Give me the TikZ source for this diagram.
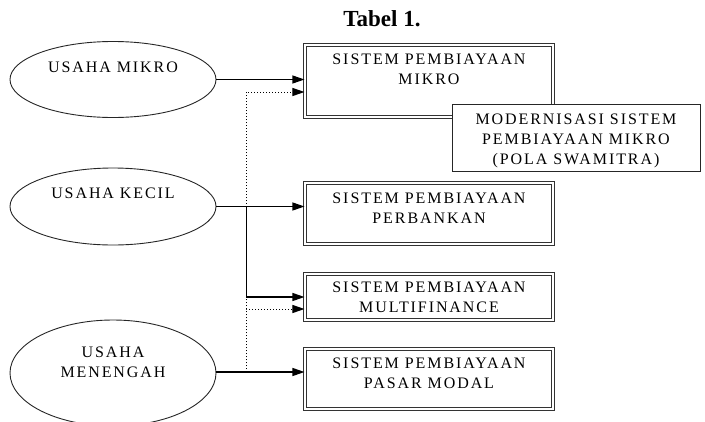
\documentclass[tikz,border=0pt]{standalone}
\usepackage{fontspec}
\setmainfont{Liberation Serif}
\newfontfamily\diagfont[LetterSpace=12]{Liberation Serif}
\usetikzlibrary{positioning,arrows.meta,shapes}

\tikzset{
    usaha/.style={ellipse, draw=black!85, line width=0.9pt, minimum width=206pt, inner sep=0pt},
    sistem/.style={rectangle, draw=black!80, double, double distance=1.6pt, line width=1.1pt, minimum width=248pt, inner sep=0pt},
    modern/.style={rectangle, draw=black!85, fill=white, line width=1pt, minimum width=248pt, minimum height=67pt, inner sep=0pt},
    lbl/.style={font=\diagfont\fontsize{16}{20}\selectfont, align=center, inner sep=0pt},
    ulbl/.style={font=\diagfont\fontsize{16}{20}\selectfont, align=center, inner sep=0pt},
    arr/.style={-{Triangle[length=12pt,width=8pt]}, line width=1.1pt},
    dots/.style={dotted, line width=1pt, -{Triangle[length=12pt,width=8pt]}}
}

\begin{document}
\begin{tikzpicture}[x=1pt, y=-1pt]
    \useasboundingbox (0,0) rectangle (705,421);

    % Title
    \node[font=\fontsize{23}{26}\selectfont\bfseries] (title) at (382,19) {Tabel 1.};

    % Usaha (left column)
    \node[usaha, minimum height=76pt, label={[ulbl, yshift=12.5pt]center:USAHA MIKRO}] (umikro) at (113,79.5) {};
    \node[usaha, minimum height=77pt, label={[ulbl, yshift=13.5pt]center:USAHA KECIL}] (ukecil) at (113,206.5) {};
    \node[usaha, minimum height=106pt, label={[ulbl, yshift=10.5pt]center:USAHA\\MENENGAH}] (umenengah) at (113,373) {};

    % Sistem pembiayaan (right column)
    \node[sistem, minimum height=72pt, label={[lbl, yshift=12pt]center:SISTEM PEMBIAYAAN\\MIKRO}] (smikro) at (429,81) {};
    \node[sistem, minimum height=61pt, label={[lbl, yshift=5.5pt]center:SISTEM PEMBIAYAAN\\PERBANKAN}] (sbank) at (429,213.5) {};
    \node[sistem, minimum height=46pt, label={[lbl]center:SISTEM PEMBIAYAAN\\MULTIFINANCE}] (smulti) at (429,297) {};
    \node[sistem, minimum height=60pt, label={[lbl, yshift=5.5pt]center:SISTEM PEMBIAYAAN\\PASAR MODAL}] (spasar) at (429,379) {};

    \node[modern, label={[lbl, yshift=-3.5pt]center:MODERNISASI SISTEM\\PEMBIAYAAN MIKRO\\(POLA SWAMITRA)}] (swamitra) at (576,137.5) {};

    % Junctions
    \coordinate (jk) at ([xshift=30pt]ukecil.east);
    \coordinate (jm) at ([xshift=30pt,yshift=1pt]umenengah.east);

    % Dotted links from usaha menengah
    \draw[dots] (jm) |- ([yshift=-11pt]smikro.west);
    \draw[dots] (jm) |- ([yshift=-12pt]smulti.west);

    % Solid links
    \draw[arr] (umikro.east) -- (umikro.east -| smikro.west);
    \draw[arr] (ukecil.east) -- (ukecil.east -| sbank.west);
    \draw[arr] (jk) |- (smulti.west);
    \draw[arr] ([yshift=1pt]umenengah.east) -- ([yshift=1pt]umenengah.east -| spasar.west);
\end{tikzpicture}
\end{document}
